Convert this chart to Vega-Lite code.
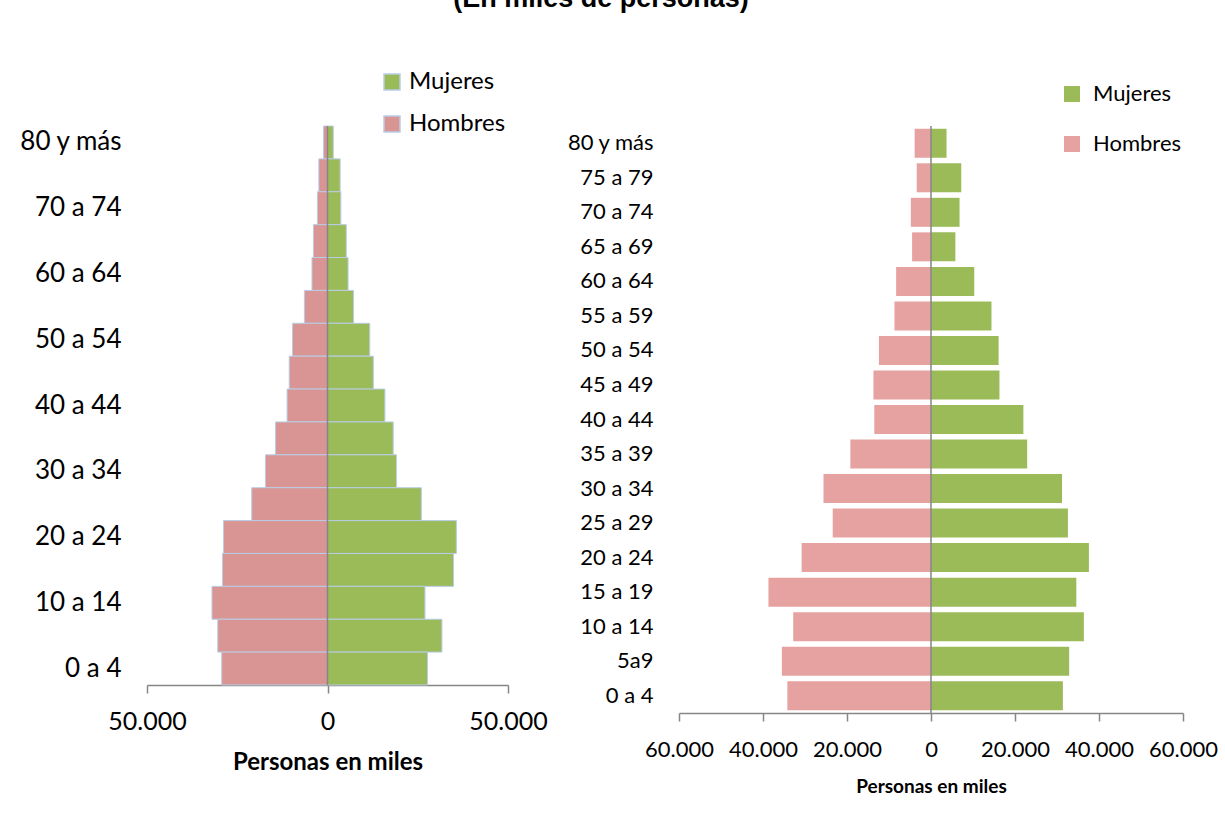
{
  "$schema": "https://vega.github.io/schema/vega-lite/v6.json",
  "autosize": {"type": "none"},
  "padding": {"left": 147, "top": 126, "right": 1078, "bottom": 703},
  "background": "white",
  "title": {"text": "(En miles de personas)", "font": "Liberation Sans", "fontSize": 27, "fontWeight": "bold", "color": "black", "anchor": "middle", "baseline": "bottom", "offset": 30, "dx": -17},
  "config": {
    "view": {"stroke": null},
    "font": "Lato",
    "axis": {"grid": false, "labelColor": "black", "titleColor": "black", "domainColor": "#868686", "tickColor": "#868686"},
    "legend": {"labelColor": "black"}
  },
  "datasets": {
    "izq": [
      {"edad": "80 y más", "sexo": "Hombres", "valor": -1100}, {"edad": "80 y más", "sexo": "Mujeres", "valor": 1600},
      {"edad": "75 a 79", "sexo": "Hombres", "valor": -2400}, {"edad": "75 a 79", "sexo": "Mujeres", "valor": 3500},
      {"edad": "70 a 74", "sexo": "Hombres", "valor": -2800}, {"edad": "70 a 74", "sexo": "Mujeres", "valor": 3700},
      {"edad": "65 a 69", "sexo": "Hombres", "valor": -3900}, {"edad": "65 a 69", "sexo": "Mujeres", "valor": 5200},
      {"edad": "60 a 64", "sexo": "Hombres", "valor": -4300}, {"edad": "60 a 64", "sexo": "Mujeres", "valor": 5700},
      {"edad": "55 a 59", "sexo": "Hombres", "valor": -6400}, {"edad": "55 a 59", "sexo": "Mujeres", "valor": 7200},
      {"edad": "50 a 54", "sexo": "Hombres", "valor": -9700}, {"edad": "50 a 54", "sexo": "Mujeres", "valor": 11700},
      {"edad": "45 a 49", "sexo": "Hombres", "valor": -10600}, {"edad": "45 a 49", "sexo": "Mujeres", "valor": 12700},
      {"edad": "40 a 44", "sexo": "Hombres", "valor": -11200}, {"edad": "40 a 44", "sexo": "Mujeres", "valor": 15900},
      {"edad": "35 a 39", "sexo": "Hombres", "valor": -14400}, {"edad": "35 a 39", "sexo": "Mujeres", "valor": 18200},
      {"edad": "30 a 34", "sexo": "Hombres", "valor": -17200}, {"edad": "30 a 34", "sexo": "Mujeres", "valor": 19100},
      {"edad": "25 a 29", "sexo": "Hombres", "valor": -21000}, {"edad": "25 a 29", "sexo": "Mujeres", "valor": 26000},
      {"edad": "20 a 24", "sexo": "Hombres", "valor": -28800}, {"edad": "20 a 24", "sexo": "Mujeres", "valor": 35700},
      {"edad": "15 a 19", "sexo": "Hombres", "valor": -29100}, {"edad": "15 a 19", "sexo": "Mujeres", "valor": 34900},
      {"edad": "10 a 14", "sexo": "Hombres", "valor": -32000}, {"edad": "10 a 14", "sexo": "Mujeres", "valor": 27000},
      {"edad": "5 a 9", "sexo": "Hombres", "valor": -30400}, {"edad": "5 a 9", "sexo": "Mujeres", "valor": 31700},
      {"edad": "0 a 4", "sexo": "Hombres", "valor": -29300}, {"edad": "0 a 4", "sexo": "Mujeres", "valor": 27700}
    ],
    "der": [
      {"edad": "80 y más", "sexo": "Hombres", "valor": -3900}, {"edad": "80 y más", "sexo": "Mujeres", "valor": 3700},
      {"edad": "75 a 79", "sexo": "Hombres", "valor": -3400}, {"edad": "75 a 79", "sexo": "Mujeres", "valor": 7200},
      {"edad": "70 a 74", "sexo": "Hombres", "valor": -4800}, {"edad": "70 a 74", "sexo": "Mujeres", "valor": 6800},
      {"edad": "65 a 69", "sexo": "Hombres", "valor": -4500}, {"edad": "65 a 69", "sexo": "Mujeres", "valor": 5800},
      {"edad": "60 a 64", "sexo": "Hombres", "valor": -8300}, {"edad": "60 a 64", "sexo": "Mujeres", "valor": 10300},
      {"edad": "55 a 59", "sexo": "Hombres", "valor": -8700}, {"edad": "55 a 59", "sexo": "Mujeres", "valor": 14400},
      {"edad": "50 a 54", "sexo": "Hombres", "valor": -12400}, {"edad": "50 a 54", "sexo": "Mujeres", "valor": 16100},
      {"edad": "45 a 49", "sexo": "Hombres", "valor": -13700}, {"edad": "45 a 49", "sexo": "Mujeres", "valor": 16300},
      {"edad": "40 a 44", "sexo": "Hombres", "valor": -13500}, {"edad": "40 a 44", "sexo": "Mujeres", "valor": 22000},
      {"edad": "35 a 39", "sexo": "Hombres", "valor": -19200}, {"edad": "35 a 39", "sexo": "Mujeres", "valor": 22900},
      {"edad": "30 a 34", "sexo": "Hombres", "valor": -25600}, {"edad": "30 a 34", "sexo": "Mujeres", "valor": 31200},
      {"edad": "25 a 29", "sexo": "Hombres", "valor": -23400}, {"edad": "25 a 29", "sexo": "Mujeres", "valor": 32600},
      {"edad": "20 a 24", "sexo": "Hombres", "valor": -30800}, {"edad": "20 a 24", "sexo": "Mujeres", "valor": 37600},
      {"edad": "15 a 19", "sexo": "Hombres", "valor": -38700}, {"edad": "15 a 19", "sexo": "Mujeres", "valor": 34600},
      {"edad": "10 a 14", "sexo": "Hombres", "valor": -32800}, {"edad": "10 a 14", "sexo": "Mujeres", "valor": 36400},
      {"edad": "5a9", "sexo": "Hombres", "valor": -35500}, {"edad": "5a9", "sexo": "Mujeres", "valor": 32900},
      {"edad": "0 a 4", "sexo": "Hombres", "valor": -34200}, {"edad": "0 a 4", "sexo": "Mujeres", "valor": 31400}
    ]
  },
  "hconcat": [
    {
      "width": 361,
      "height": 559,
      "layer": [
        {
          "data": {"name": "izq"},
          "mark": {"type": "bar", "stroke": "#B9CDE5", "strokeWidth": 1},
          "encoding": {
            "y": {
              "field": "edad", "type": "nominal",
              "sort": ["80 y más", "75 a 79", "70 a 74", "65 a 69", "60 a 64", "55 a 59", "50 a 54", "45 a 49", "40 a 44", "35 a 39", "30 a 34", "25 a 29", "20 a 24", "15 a 19", "10 a 14", "5 a 9", "0 a 4"],
              "scale": {"paddingInner": 0, "paddingOuter": 0},
              "axis": {"title": null, "domain": false, "ticks": false, "tickSize": 0, "labelPadding": 26, "labelFontSize": 26, "labelFont": "Lato",
                "values": ["80 y más", "70 a 74", "60 a 64", "50 a 54", "40 a 44", "30 a 34", "20 a 24", "10 a 14", "0 a 4"]}
            },
            "x": {
              "field": "valor", "type": "quantitative",
              "scale": {"domain": [-50000, 50000], "nice": false},
              "axis": {"values": [-50000, 0, 50000], "labelExpr": "replace(format(abs(datum.value), ','), ',', '.')", "labelOverlap": false, "labelFlush": false,
                "domainWidth": 1.5, "tickWidth": 1.5, "tickSize": 8, "labelFontSize": 25, "labelPadding": 16,
                "title": "Personas en miles", "titleFontSize": 24, "titleFontWeight": "bold", "titlePadding": 16}
            },
            "color": {
              "field": "sexo", "type": "nominal",
              "scale": {"domain": ["Mujeres", "Hombres"], "range": ["#9BBB59", "#D99594"]},
              "legend": {"title": null, "orient": "none", "legendX": 233, "legendY": -56, "symbolType": "square", "symbolSize": 256,
                "symbolStrokeColor": "#B9CDE5", "symbolStrokeWidth": 1.5, "labelFontSize": 24, "labelOffset": 5, "rowPadding": 18}
            }
          }
        },
        {
          "data": {"values": [{}]},
          "mark": {"type": "rule", "color": "#868686", "strokeWidth": 1.5},
          "encoding": {"x": {"datum": 0}}
        }
      ]
    },
    {
      "width": 504,
      "height": 587,
      "layer": [
        {
          "data": {"name": "der"},
          "mark": {"type": "bar"},
          "encoding": {
            "y": {
              "field": "edad", "type": "nominal",
              "sort": ["80 y más", "75 a 79", "70 a 74", "65 a 69", "60 a 64", "55 a 59", "50 a 54", "45 a 49", "40 a 44", "35 a 39", "30 a 34", "25 a 29", "20 a 24", "15 a 19", "10 a 14", "5a9", "0 a 4"],
              "scale": {"paddingInner": 0.16, "paddingOuter": 0.08},
              "axis": {"title": null, "domain": false, "ticks": false, "tickSize": 0, "labelPadding": 26, "labelFontSize": 22, "labelFont": "Lato"}
            },
            "x": {
              "field": "valor", "type": "quantitative",
              "scale": {"domain": [-60000, 60000], "nice": false},
              "axis": {"values": [-60000, -40000, -20000, 0, 20000, 40000, 60000], "labelExpr": "replace(format(abs(datum.value), ','), ',', '.')", "labelOverlap": false, "labelFlush": false,
                "domainWidth": 1.5, "tickWidth": 1.5, "tickSize": 8, "labelFontSize": 22, "labelPadding": 18,
                "title": "Personas en miles", "titleFontSize": 19, "titleFontWeight": "bold", "titlePadding": 17}
            },
            "color": {
              "field": "sexo", "type": "nominal",
              "scale": {"domain": ["Mujeres", "Hombres"], "range": ["#9BBB59", "#E6A2A0"]},
              "legend": {"title": null, "orient": "none", "legendX": 382, "legendY": -43, "symbolType": "square", "symbolSize": 256,
                "labelFontSize": 22, "labelOffset": 10, "rowPadding": 28}
            }
          }
        },
        {
          "data": {"values": [{}]},
          "mark": {"type": "rule", "color": "#868686", "strokeWidth": 1.5},
          "encoding": {"x": {"datum": 0}}
        }
      ]
    }
  ],
  "spacing": 171,
  "bounds": "flush",
  "resolve": {"scale": {"color": "independent", "y": "independent", "x": "independent"}, "legend": {"color": "independent"}}
}
